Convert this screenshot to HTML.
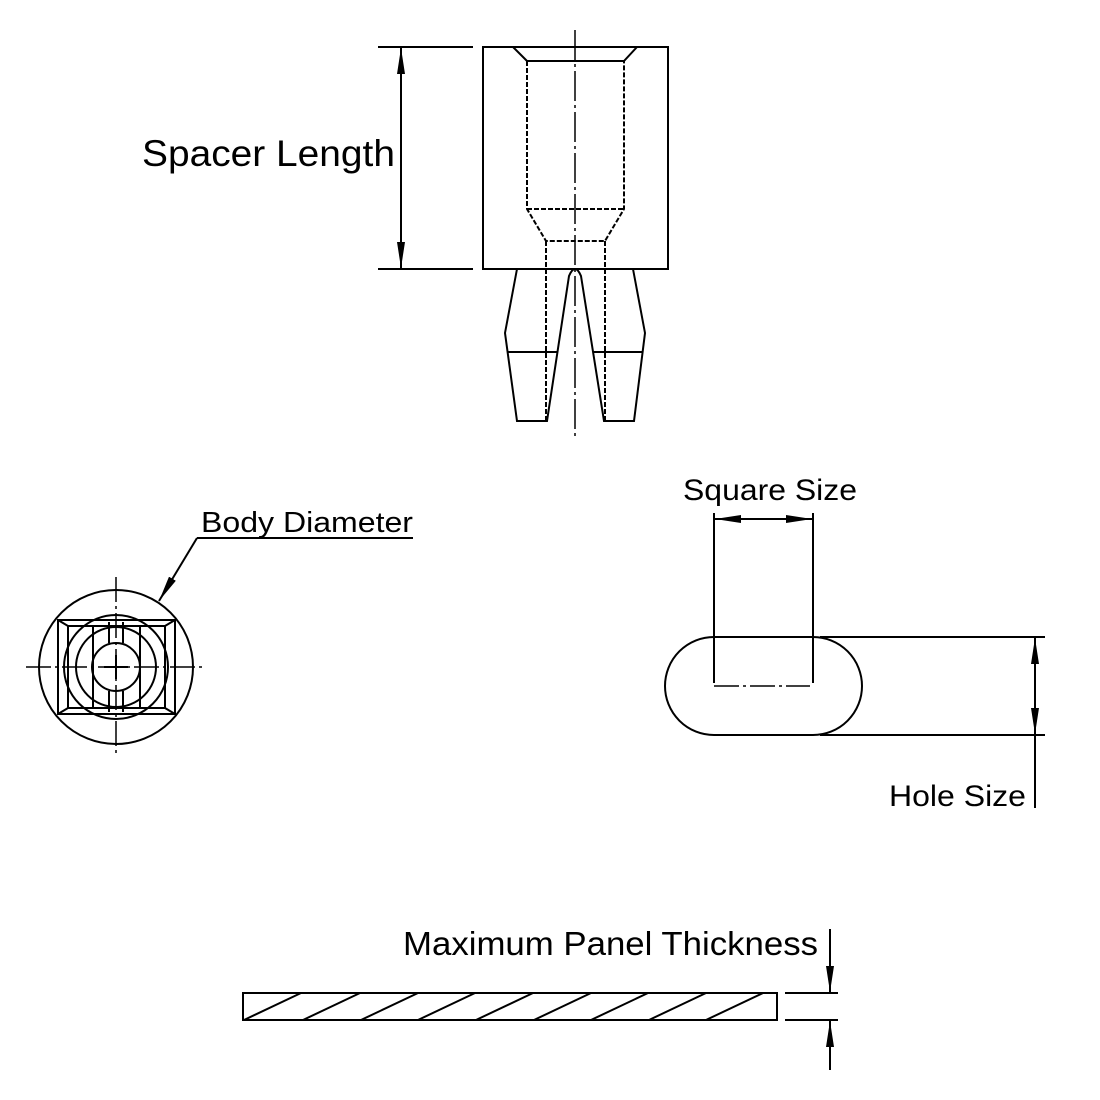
<!DOCTYPE html>
<html><head><style>html,body{margin:0;padding:0;background:#fff}svg{display:block}</style></head>
<body>
<svg width="1100" height="1100" viewBox="0 0 1100 1100" xmlns="http://www.w3.org/2000/svg" font-family="Liberation Sans, Arial, sans-serif">
<defs>
<marker id="a" viewBox="0 0 26 8" refX="26" refY="4" markerWidth="26" markerHeight="8" markerUnits="userSpaceOnUse" orient="auto"><path d="M0,0 L26,4 L0,8 Z" fill="#000"/></marker>
</defs>
<g stroke="#000" stroke-width="2" fill="none">
<rect x="483" y="47" width="185" height="222"/>
<path d="M513,47 L527,61 L624,61 L637,47" />
<path d="M527,61 L527,209 L546,241 L605,241 L624,209 L624,61" stroke-dasharray="5,2"/>
<line x1="527" y1="209" x2="624" y2="209" stroke-dasharray="5,2"/>
<line x1="546" y1="241" x2="546" y2="421" stroke-dasharray="5,2"/>
<line x1="605" y1="241" x2="605" y2="421" stroke-dasharray="5,2"/>
<path d="M517,269 L505,333 L517,421 L547,421 L569,276 Q575,262 581,276 L604,421 L634,421 L645,333 L633,269"/>
<line x1="508" y1="352" x2="557" y2="352"/>
<line x1="593" y1="352" x2="643" y2="352"/>
<line x1="575" y1="30" x2="575" y2="440" stroke-width="1.5" stroke-dasharray="30,4,3,4"/>
<line x1="378" y1="47" x2="473" y2="47"/>
<line x1="378" y1="269" x2="473" y2="269"/>
<line x1="401" y1="158" x2="401" y2="48" marker-end="url(#a)"/>
<line x1="401" y1="158" x2="401" y2="268" marker-end="url(#a)"/>
<circle cx="116" cy="667" r="77"/>
<rect x="58" y="620" width="117" height="94"/>
<path d="M58,620 L68,626 L165,626 L175,620 M58,714 L68,708 L165,708 L175,714"/>
<line x1="68" y1="626" x2="68" y2="708"/>
<line x1="165" y1="626" x2="165" y2="708"/>
<line x1="93" y1="626" x2="93" y2="708"/>
<line x1="140" y1="626" x2="140" y2="708"/>
<circle cx="116" cy="667" r="52"/>
<circle cx="116" cy="667" r="40"/>
<circle cx="116" cy="667" r="24"/>
<line x1="109" y1="622" x2="109" y2="643"/><line x1="123" y1="622" x2="123" y2="643"/>
<line x1="109" y1="691" x2="109" y2="712"/><line x1="123" y1="691" x2="123" y2="712"/>
<line x1="104" y1="667" x2="128" y2="667"/><line x1="116" y1="655" x2="116" y2="679"/>
<line x1="26" y1="667" x2="205" y2="667" stroke-width="1.5" stroke-dasharray="25,4,3,4"/>
<line x1="116" y1="577" x2="116" y2="756" stroke-width="1.5" stroke-dasharray="25,4,3,4"/>
<line x1="197" y1="538" x2="413" y2="538"/>
<line x1="197" y1="538" x2="159" y2="601" marker-end="url(#a)"/>
<path d="M714,637 L813,637 A49,49 0 0 1 813,735 L714,735 A49,49 0 0 1 714,637 Z"/>
<line x1="820" y1="637" x2="1045" y2="637"/>
<line x1="820" y1="735" x2="1045" y2="735"/>
<line x1="1035" y1="686" x2="1035" y2="638" marker-end="url(#a)"/>
<line x1="1035" y1="686" x2="1035" y2="734" marker-end="url(#a)"/>
<line x1="1035" y1="735" x2="1035" y2="808"/>
<line x1="714" y1="513" x2="714" y2="683"/>
<line x1="813" y1="513" x2="813" y2="683"/>
<line x1="763" y1="519" x2="715" y2="519" marker-end="url(#a)"/>
<line x1="763" y1="519" x2="812" y2="519" marker-end="url(#a)"/>
<line x1="714" y1="686" x2="810" y2="686" stroke-width="1.5" stroke-dasharray="25,4,3,4"/>
<rect x="243" y="993" width="534" height="27"/>
<path d="M244,1020 L301,993 M303,1020 L360,993 M361,1020 L418,993 M418,1020 L475,993 M476,1020 L533,993 M534,1020 L591,993 M591,1020 L648,993 M649,1020 L706,993 M706,1020 L763,993"/>
<line x1="785" y1="993" x2="838" y2="993"/>
<line x1="785" y1="1020" x2="838" y2="1020"/>
<line x1="830" y1="929" x2="830" y2="992" marker-end="url(#a)"/>
<line x1="830" y1="1070" x2="830" y2="1021" marker-end="url(#a)"/>
</g>
<g fill="#000">
<text x="142" y="166" font-size="37" textLength="253" lengthAdjust="spacingAndGlyphs">Spacer Length</text>
<text x="201" y="532" font-size="29" textLength="212" lengthAdjust="spacingAndGlyphs">Body Diameter</text>
<text x="683" y="500" font-size="30" textLength="174" lengthAdjust="spacingAndGlyphs">Square Size</text>
<text x="889" y="806" font-size="30" textLength="137" lengthAdjust="spacingAndGlyphs">Hole Size</text>
<text x="403" y="955" font-size="33" textLength="415" lengthAdjust="spacingAndGlyphs">Maximum Panel Thickness</text>
</g>
</svg>
</body></html>
